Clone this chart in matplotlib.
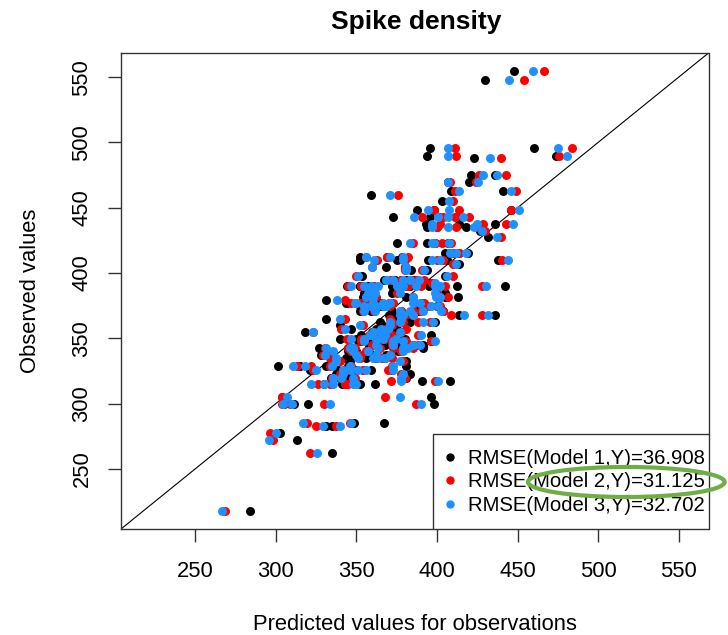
import matplotlib
matplotlib.use("Agg")
import matplotlib.pyplot as plt
from matplotlib.patches import Ellipse, Rectangle

plt.rcParams['font.family'] = ['Liberation Sans', 'DejaVu Sans']

# observed value and the three model predictions, same order in each list
observed = [555, 548, 495.6, 495.6, 490, 490, 488, 475, 475, 470, 470, 463, 463, 460, 455,
            448, 448, 448, 442.6, 442.6, 442.6, 442.6, 437.5, 437.5, 437.5, 435, 435, 435, 432, 427.6,
            422.7, 422.7, 422.7, 422.7, 415, 415, 415, 412.5, 412.5, 412.5, 410, 410, 410, 410, 410,
            407, 405, 405, 402.6, 402.6, 397.6, 397.6,
            395, 395, 395, 395, 395, 392.6, 390, 390, 390, 390, 390, 390,
            390, 390, 390, 390, 390, 385, 385, 385, 385, 382, 382, 382, 382, 382,
            379.7, 377, 377, 377, 377, 377, 377, 377,
            374.5, 374.5, 374.5, 374.5, 374.5, 374.5, 374.5,
            370.7, 370.7, 370.7, 370.7, 370.7, 370.7,
            367.7, 367.7, 367.7, 367.7, 367.7, 365, 365,
            362.5, 362.5, 362.5, 362.5, 360, 360, 357, 357, 357,
            355, 355, 355, 355, 352.8, 352.8, 352.8,
            349.7, 349.7, 349.7, 349.7, 349.7, 347.7, 347.7, 347.7, 347.7,
            345, 345, 345, 345, 342.6, 342.6, 342.6, 342.6, 342.6, 342.6,
            340, 340, 340, 340, 337.5, 337.5, 337.5, 337.5,
            335, 335, 335, 335, 335, 332.4, 332.4,
            328.5, 328.5, 328.5, 328.5, 328.5, 326, 326, 326, 326, 326, 326,
            323, 323, 319.6, 319.6, 319.6, 319.6, 317.5, 317.5,
            315, 315, 315, 315, 315, 305, 305, 300, 300, 300, 300,
            285.5, 285.5, 282.5, 282.5, 277.4, 272, 262.5, 217.5]
model1 = [447.6, 430, 396, 460, 394, 474, 423, 421, 436, 407, 419.7, 441, 408.6, 359, 403,
          387.6, 398, 446, 373, 396, 401, 412, 393, 414, 436, 393.7, 400, 418, 427, 432,
          375, 393.7, 399, 407, 405, 419, 408, 352, 369, 378.6, 352, 375, 394.7, 406, 438,
          414, 368.5, 380, 384, 394, 353.6, 405,
          367, 374, 378, 381, 386, 395, 344, 352, 352, 357, 372, 442.5,
          412.7, 374, 376, 383, 395, 355, 360, 372, 405, 354, 358, 381, 404.9, 413,
          331, 344, 343.9, 357, 386, 390, 362, 365,
          352, 357, 360, 364, 366, 393, 400,
          352, 359, 372, 378, 388, 404,
          436, 414, 370, 375, 381, 331, 373,
          365, 374, 383, 399, 340, 366, 347, 375, 362,
          318, 360, 363, 375, 396.6, 353, 369,
          340, 350, 358, 362, 380, 352, 366, 378, 396.6,
          358, 368, 391.4, 385, 326.7, 345, 347, 358, 375, 391.4,
          344.9, 350, 346, 376, 328, 348, 360, 368.7,
          343.9, 346, 356, 362, 367.7, 346, 381,
          301.5, 315, 331, 345, 381, 321, 338.7, 344, 350, 359.4, 372,
          337.7, 383, 334, 340, 346, 381, 391, 408,
          330, 335, 341, 352, 361.7, 304, 396.6, 320, 311.4, 305, 398,
          367, 348.7, 334.6, 331, 302.5, 313, 335, 284]
model2 = [466.7, 454, 411.5, 483.6, 412, 475.6, 439.6, 426, 443, 408, 424, 449, 411, 376, 410,
          398, 413.5, 446, 391, 404, 411, 420, 402, 428.6, 443, 400, 412, 425, 430, 440,
          385, 399, 403, 409, 410, 414, 414, 356, 369, 382, 363, 380, 400, 404, 440.6,
          410, 360, 380, 380, 391, 350, 410,
          371, 378, 384, 387, 392, 397, 345, 353, 360, 361, 378, 428,
          405, 380, 382, 390, 400, 360, 361, 375, 400, 356, 362, 385, 402, 407,
          343, 347, 352, 360, 390, 392, 372.8, 370,
          357, 358, 362, 368, 371, 396, 402,
          354, 361, 378, 385, 390, 404,
          428, 409, 378, 380, 385, 343, 371,
          372, 379, 388, 396, 354, 372, 340.8, 381, 368,
          323, 362, 368, 378, 388, 358, 372,
          344, 353, 364, 368, 371, 353, 372, 381, 396.6,
          360, 372, 381, 388, 330.4, 345, 349, 365, 372.8, 385,
          332, 356, 347, 378, 329.5, 352, 363, 371,
          333.5, 352, 362, 366, 372, 340, 379,
          313.5, 322, 333.5, 347, 372, 323, 342, 345.5, 354, 354, 369.7,
          340, 378, 335, 341, 349, 380, 371.6, 398.7,
          326, 333.5, 342.8, 345, 343.9, 304, 368, 330, 309, 304, 387,
          319.7, 346, 325, 337.7, 296.7, 298, 321, 268.8]
model3 = [459.8, 445, 406.7, 475, 406.7, 481, 433, 428.6, 437, 407, 425.7, 446, 414, 371, 407.5,
          394.3, 407.7, 451, 386, 400.6, 407, 416, 397, 425, 447, 397, 407, 423, 428, 437,
          383, 397, 398, 407.5, 408, 418, 412, 356, 371, 379, 361, 379, 397, 402, 444,
          412, 360, 381, 381, 392, 351, 406,
          368.7, 372.8, 379, 383, 389, 398.6, 347, 355, 359, 363.5, 375, 430.7,
          402, 377, 379, 387, 398.7, 357.3, 361.4, 377, 398.7, 356, 360.4, 385.4, 399.7, 402,
          338, 349, 350, 360.4, 385, 389.4, 366.6, 370.8,
          355, 359.4, 362.5, 366.6, 368.7, 396.6, 400.7,
          355, 361.4, 377, 383, 391.4, 402.8,
          432, 417, 377, 379, 385, 340, 378,
          370.8, 377, 391.4, 397.6, 352, 370.8, 342.8, 369.7, 365.6,
          323, 360.4, 365.6, 377, 390, 358.3, 367.7,
          347, 355, 362.5, 366.6, 374.9, 355, 372.8, 379, 399,
          362.5, 372.8, 385, 389.4, 331, 346, 348, 363.5, 379, 382,
          335.6, 357.3, 348, 379, 330.4, 350, 362.5, 370.8,
          337.7, 351, 360.4, 363.5, 368, 337.7, 377,
          310.8, 318, 334.6, 346, 372.8, 325, 341.8, 347, 351, 356, 372.8,
          341.8, 379, 335.6, 340.8, 348, 378, 378, 400.7,
          322, 330, 335.6, 350, 348, 307, 377, 333.5, 310.4, 304.6, 390,
          317, 347, 329.4, 339.7, 300, 295.7, 325.7, 266.8]

model_colors = ['black', 'red', 'dodgerblue']
legend_labels = ['RMSE(Model 1,Y)=36.908', 'RMSE(Model 2,Y)=31.125', 'RMSE(Model 3,Y)=32.702']
ticks = [250, 300, 350, 400, 450, 500, 550]

fig = plt.figure(figsize=(7.28, 6.35), dpi=100)
ax = fig.add_axes([121/728, 1-529/635, 587.5/728, 476/635])

lims = (204, 568.5)
ax.plot(lims, lims, color='black', lw=0.8, zorder=1)
for preds, col in zip([model1, model2, model3], model_colors):
    ax.scatter(preds, observed, s=42, color=col, linewidths=0, zorder=2)

ax.set_xlim(lims)
ax.set_ylim(lims)
ax.set_xticks(ticks)
ax.set_yticks(ticks)
ax.tick_params(length=9.5, width=1, color='#333333', labelsize=15.8)
ax.tick_params(axis='x', pad=13.5)
ax.tick_params(axis='y', pad=11)
for lab in ax.get_yticklabels():
    lab.set_rotation(90)
    lab.set_va('center')
for s in ax.spines.values():
    s.set_color('#333333')
    s.set_linewidth(1)

ax.set_title('Spike density', fontsize=19, fontweight='bold', pad=17.5, x=0.503)
ax.set_xlabel('Predicted values for observations', fontsize=15.8, labelpad=23)
ax.set_ylabel('Observed values', fontsize=15.8, labelpad=22)

# legend box is asymmetric in the original, so frame and entries are separate
ax.add_patch(Rectangle((397.4, 204), 171.1, 73, facecolor='white', edgecolor='#333333',
                       lw=1, zorder=4))
handles = [plt.Line2D([], [], ls='', marker='o', ms=6, mew=0, color=c) for c in model_colors]
leg = ax.legend(handles, legend_labels, loc='lower right', bbox_to_anchor=(0.994, 0.03),
                fontsize=14.6, borderaxespad=0, borderpad=0, frameon=False,
                labelspacing=0.22, handletextpad=0.3, handlelength=1.2)
leg.set_zorder(5)

# green hand drawn highlight round the second legend row
ax.add_patch(Ellipse((517.5, 240), 122, 23, fill=False, edgecolor='#70AD47', lw=3,
                     clip_on=False, zorder=6))

fig.savefig('out.png', dpi=100)
